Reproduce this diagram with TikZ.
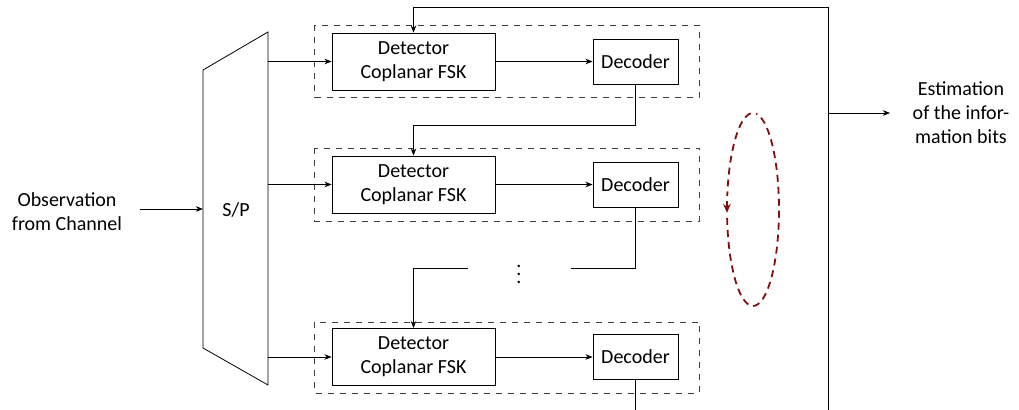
\documentclass[tikz,border=0pt]{standalone}
\usepackage{fontspec}
\setmainfont{Carlito}
\usetikzlibrary{arrows.meta}
\definecolor{loopred}{RGB}{128,16,16}
\begin{document}
\begin{tikzpicture}[x=0.5pt,y=-0.5pt,
  arr/.style={-{Stealth[length=3.6pt,width=2.8pt]}},
  looparr/.style={-{Stealth[length=4.5pt,width=3.8pt]}},
  loopline/.style={loopred,line width=0.9pt},
  detbox/.style={draw,minimum width=81.5pt,minimum height=28.5pt,align=center,inner sep=0pt},
  decbox/.style={draw,minimum width=42.5pt,minimum height=22.5pt,inner sep=0pt},
  group/.style={draw,dashed,black!75},
  lbl/.style={align=center,inner sep=0pt}]
\useasboundingbox (0,0) rectangle (1019,410);
% dashed groups
\draw[group] (314.5,25.5) rectangle (699,97.5);
\draw[group] (314.5,148) rectangle (699,221);
\draw[group] (314.5,322) rectangle (699,393);
% S/P trapezoid
\draw (203,70) -- (268,32) -- (268,385) -- (203,348) -- cycle;
\node[lbl] (sp) at (236,210) {S/P};
\coordinate (spin) at (203,209);
\coordinate (spo1) at (268,61.5);
\coordinate (spo2) at (268,184.5);
\coordinate (spo3) at (268,357);
% input / output labels
\node[lbl] (obs) at (67,212) {Observation\\from Channel};
\coordinate (obsend) at (140,209);
\draw[arr] (obsend) -- (spin);
% detectors and decoders
\node[detbox] (det1) at (413.5,61.5) {Detector\\Coplanar FSK};
\node[detbox] (det2) at (413.5,184.5) {Detector\\Coplanar FSK};
\node[detbox] (det3) at (413.5,357) {Detector\\Coplanar FSK};
\node[decbox] (dec1) at (635.5,61.5) {Decoder};
\node[decbox] (dec2) at (635.5,184.5) {Decoder};
\node[decbox] (dec3) at (635.5,357) {Decoder};
\draw[arr] (spo1) -- (det1.west);
\draw[arr] (spo2) -- (det2.west);
\draw[arr] (spo3) -- (det3.west);
\draw[arr] (det1.east) -- (dec1.west);
\draw[arr] (det2.east) -- (dec2.west);
\draw[arr] (det3.east) -- (dec3.west);
% chain between stages
\coordinate (j1) at (413.5,125);
\draw[arr] (dec1.south) |- (j1) -- (det2.north);
\coordinate (g1) at (571,268);
\coordinate (g2) at (468,268);
\draw (dec2.south) |- (g1);
\draw[arr] (g2) -| (det3.north);
\node[lbl] (dots) at (519,268) {$\vdots$};
\coordinate (d3end) at (635.5,410);
\draw (dec3.south) -- (d3end);
% feedback / output bus
\coordinate (busT) at (828,7);
\coordinate (busB) at (828,410);
\coordinate (busM) at (828,113);
\draw[arr] (busB) -- (busT) -| (det1.north);
\node[lbl] (est) at (961,113) {Estimation\\of the infor-\\mation bits};
\coordinate (estin) at (890,113);
\draw[arr] (busM) -- (estin);
% iteration loop
\coordinate (lc) at (753,209.5);
\draw[loopline,dash pattern=on 3.5pt off 2.5pt]
  ([shift={(95:13pt and 48.25pt)}]lc) arc[start angle=95,end angle=172,x radius=13pt,y radius=48.25pt];
\draw[loopline,looparr]
  ([shift={(175:13pt and 48.25pt)}]lc) arc[start angle=175,end angle=182,x radius=13pt,y radius=48.25pt];
\draw[loopline,dash pattern=on 3.5pt off 2.5pt]
  ([shift={(185:13pt and 48.25pt)}]lc) arc[start angle=185,end angle=443,x radius=13pt,y radius=48.25pt];
\end{tikzpicture}
\end{document}
